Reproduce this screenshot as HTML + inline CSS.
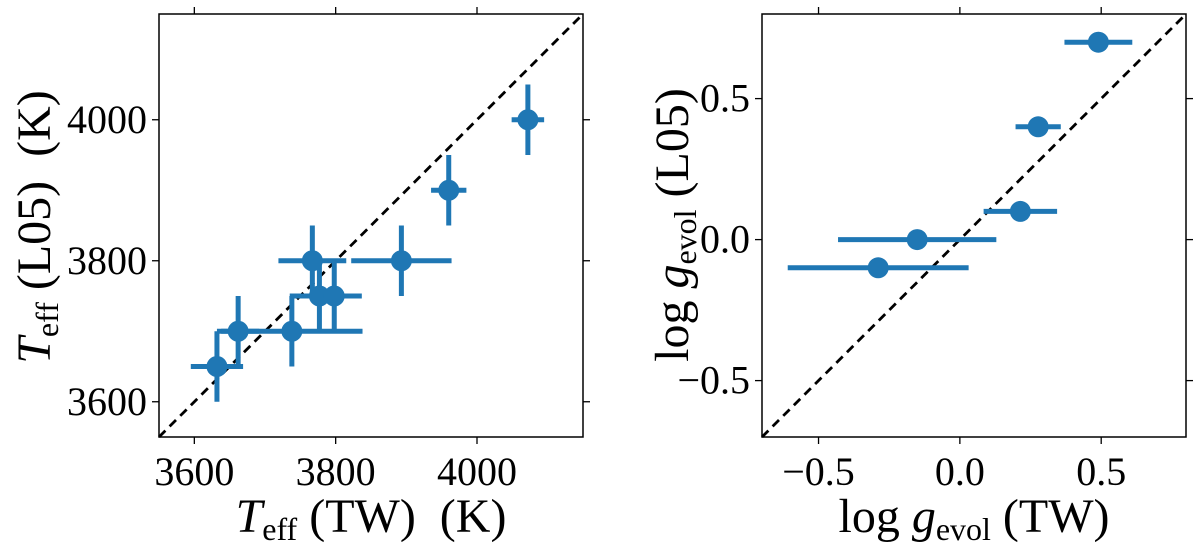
<!DOCTYPE html>
<html><head><meta charset="utf-8"><style>
html,body{margin:0;padding:0;background:#fff;}
svg{display:block;font-family:"Liberation Serif",serif;}
</style></head><body>
<svg id="chart" width="1200" height="544" viewBox="0 0 1200 544"></svg>
<script>
// Left panel data: Teff TW vs Teff L05
const teffTW = [3632, 3662, 3738, 3767, 3777, 3798, 3893, 3960, 4072];
const teffTWerr = [37, 30, 100, 48, 42, 39, 71, 25, 23];
const teffL05 = [3650, 3700, 3700, 3800, 3750, 3750, 3800, 3900, 4000];
const teffL05err = [50, 50, 50, 50, 50, 50, 50, 50, 50];
const teffTicks = [3600, 3800, 4000];
// Right panel data: log g
const loggTW = [0.49, 0.277, 0.214, -0.151, -0.289];
const loggTWerr = [0.12, 0.08, 0.13, 0.28, 0.32];
const loggL05 = [0.7, 0.4, 0.1, 0.0, -0.1];
const loggTicks = [-0.5, 0.0, 0.5];
const loggTickLabels = ["\u22120.5", "0.0", "0.5"];

const NS = "http://www.w3.org/2000/svg";
const svg = document.getElementById("chart");
function mk(tag, attrs, parent) {
  const e = document.createElementNS(NS, tag);
  for (const k in attrs) e.setAttribute(k, attrs[k]);
  (parent || svg).appendChild(e);
  return e;
}
const blue = "#1f77b4";

function panel(cfg) {
  const g = mk("g", {});
  
  
  const L = cfg.x0, T = 14, W = 424, H = 423;
  const sx = v => L + (v - cfg.min) / (cfg.max - cfg.min) * W;
  const sy = v => T + H - (v - cfg.min) / (cfg.max - cfg.min) * H;
  const d = mk("line", {x1: sx(cfg.min), y1: sy(cfg.min), x2: sx(cfg.max), y2: sy(cfg.max), stroke: "#000", "stroke-width": 2.8, "stroke-dasharray": "9,6"}, g);
  
  
  for (let i = 0; i < cfg.xs.length; i++) {
    const x = cfg.xs[i], y = cfg.ys[i];
    const h = mk("line", {x1: sx(x - cfg.xe[i]), x2: sx(x + cfg.xe[i]), y1: sy(y), y2: sy(y), stroke: blue, "stroke-width": 5}, g);
    
    
    if (cfg.ye) {
      const v = mk("line", {x1: sx(x), x2: sx(x), y1: sy(y - cfg.ye[i]), y2: sy(y + cfg.ye[i]), stroke: blue, "stroke-width": 5}, g);
      
      
    }
  }
  for (let i = 0; i < cfg.xs.length; i++) {
    const c = mk("circle", {cx: sx(cfg.xs[i]), cy: sy(cfg.ys[i]), r: 10.5, fill: blue}, g);
    
    
  }
  const f = mk("rect", {x: L, y: T, width: W, height: H, fill: "none", stroke: "#000", "stroke-width": 1.5}, g);
  
  
  cfg.ticks.forEach((t, i) => {
    const X = sx(t), Y = sy(t);
    [[X, T + H, X, T + H + 7], [X, T, X, T - 7], [L, Y, L - 7, Y], [L + W, Y, L + W + 7, Y]].forEach(a => {
      mk("line", {x1: a[0], y1: a[1], x2: a[2], y2: a[3], stroke: "#000", "stroke-width": 1.3}, g);
    });
    const tx = mk("text", {x: X, y: T + H + 48, "text-anchor": "middle", "font-size": 40}, g);
    tx.textContent = cfg.labels[i];
    
    
    const ty = mk("text", {x: L - 12, y: Y + 13, "text-anchor": "end", "font-size": 40}, g);
    ty.textContent = cfg.labels[i];
    
    
  });
}

panel({name: "teff-panel", x0: 159, min: 3550, max: 4150, xs: teffTW, xe: teffTWerr, ys: teffL05, ye: teffL05err, ticks: teffTicks, labels: teffTicks.map(String)});
panel({name: "logg-panel", x0: 762, min: -0.7, max: 0.8, xs: loggTW, xe: loggTWerr, ys: loggL05, ye: null, ticks: loggTicks, labels: loggTickLabels});
</script>
<svg style="position:absolute;left:0;top:0" width="1200" height="544">
  <text x="371" y="532" text-anchor="middle" font-size="48" font-family="Liberation Serif, serif"><tspan font-style="italic">T</tspan><tspan font-size="32" dy="8">eff</tspan><tspan dy="-8"> (TW)&#160; (K)</tspan></text>
  <text transform="translate(50,227) rotate(-90)" text-anchor="middle" font-size="48" font-family="Liberation Serif, serif"><tspan font-style="italic">T</tspan><tspan font-size="32" dy="8">eff</tspan><tspan dy="-8"> (L05)&#160; (K)</tspan></text>
  <text x="974" y="532" text-anchor="middle" font-size="48" font-family="Liberation Serif, serif">log <tspan font-style="italic">g</tspan><tspan font-size="32" dy="8">evol</tspan><tspan dy="-8"> (TW)</tspan></text>
  <text transform="translate(688,225) rotate(-90)" text-anchor="middle" font-size="48" font-family="Liberation Serif, serif">log <tspan font-style="italic">g</tspan><tspan font-size="32" dy="8">evol</tspan><tspan dy="-8"> (L05)</tspan></text>
</svg>
</body></html>
